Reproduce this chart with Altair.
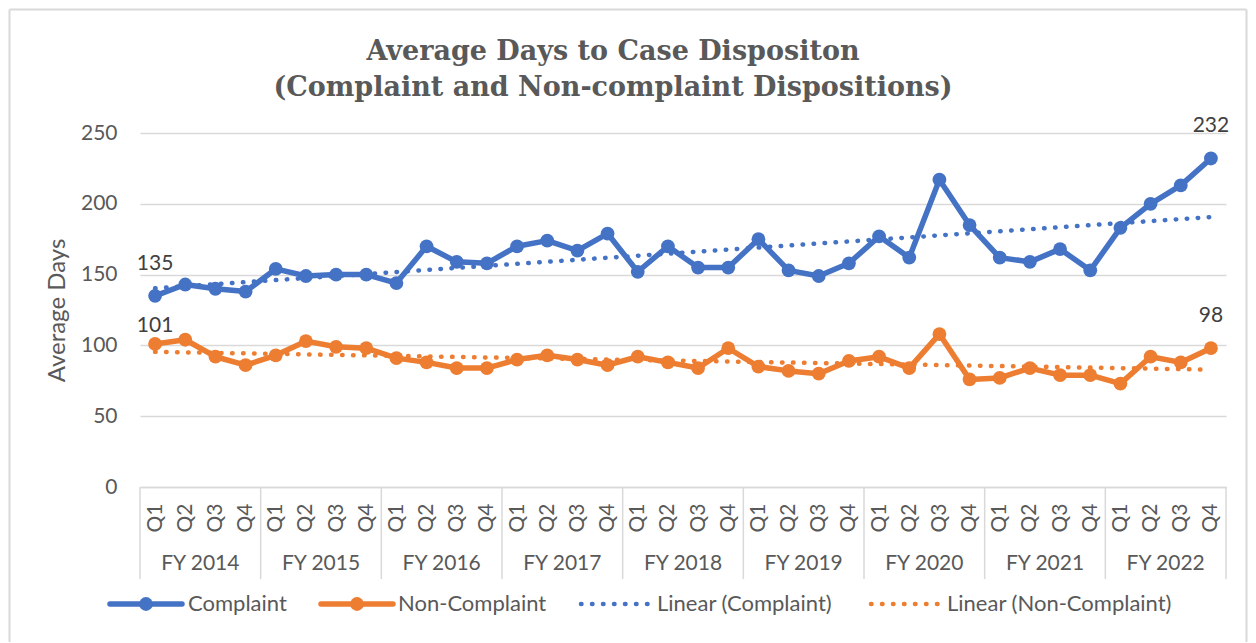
import altair as alt
import pandas as pd

# ---------------- data ----------------
YEARS = ["FY 2014", "FY 2015", "FY 2016", "FY 2017", "FY 2018",
         "FY 2019", "FY 2020", "FY 2021", "FY 2022"]
QUARTERS = ["Q1", "Q2", "Q3", "Q4"]
COMPLAINT = [135, 143, 140, 138, 154, 149, 150, 150, 144, 170, 159, 158,
             170, 174, 167, 179, 152, 170, 155, 155, 175, 153, 149, 158,
             177, 162, 217, 185, 162, 159, 168, 153, 183, 200, 213, 232]
NON_COMPLAINT = [101, 104, 92, 86, 93, 103, 99, 98, 91, 88, 84, 84,
                 90, 93, 90, 86, 92, 88, 84, 98, 85, 82, 80, 89,
                 92, 84, 108, 76, 77, 84, 79, 79, 73, 92, 88, 98]
SERIES = ["Complaint", "Non-Complaint"]
COLORS = ["#4472C4", "#ED7D31"]
LEGEND = ["Complaint", "Non-Complaint", "Linear (Complaint)", "Linear (Non-Complaint)"]
TITLE = ["Average Days to Case Dispositon", "(Complaint and Non-complaint Dispositions)"]
Y_TICKS = [0, 50, 100, 150, 200, 250]
Y_TITLE = "Average Days"

rows = []
for s, vals in zip(SERIES, [COMPLAINT, NON_COMPLAINT]):
    for i, v in enumerate(vals):
        rows.append({"series": s, "idx": i, "year": YEARS[i // 4],
                     "quarter": QUARTERS[i % 4], "value": v})
df = pd.DataFrame(rows)

n = len(COMPLAINT)
years_df = pd.DataFrame({"year": YEARS,
                         "mid": [4 * k + 1.5 for k in range(len(YEARS))]})
sep_df = pd.DataFrame({"pos": [4 * k - 0.5 for k in range(len(YEARS) + 1)]})

# ---------------- layout ----------------
W, H = 1086, 354
PAD_L, PAD_T, PAD_R, PAD_B = 132, 125, 22, 155
FONT = "Lato"
GREY = "#595959"
LINE_GREY = "#d9d9d9"

x_scale = alt.Scale(domain=[-0.5, n - 0.5], nice=False, zero=False)
y_scale = alt.Scale(domain=[0, 250], nice=False)

q_js = "[" + ",".join("'%s'" % q for q in QUARTERS) + "]"
x_axis = alt.Axis(values=list(range(n)), labelExpr=q_js + "[datum.value % 4]",
                  labelAngle=270, labelFont=FONT, labelFontSize=21,
                  labelColor=GREY, labelPadding=16, ticks=False,
                  domainColor=LINE_GREY, domainWidth=1.5, grid=False,
                  title=None, labelOverlap=False, labelFlush=False,
                  labelBound=False)
y_axis = alt.Axis(values=Y_TICKS, grid=True, gridColor=LINE_GREY, gridWidth=1.3,
                  domain=False, ticks=False, labelFont=FONT, labelFontSize=21,
                  labelColor=GREY, labelPadding=23, title=Y_TITLE,
                  titleFont=FONT, titleFontSize=24, titleFontWeight="normal",
                  titleColor=GREY, titleX=-83, titleY=H / 2, titleAngle=270,
                  titleAlign="center", titleBaseline="middle")

X = lambda f: alt.X(f, scale=x_scale, axis=x_axis)
Y = lambda f: alt.Y(f, scale=y_scale, axis=y_axis)
color = alt.Color("series:N", scale=alt.Scale(domain=SERIES, range=COLORS), legend=None)

base = alt.Chart(df)

trend = base.transform_regression("idx", "value", groupby=["series"]).mark_line(
    strokeWidth=4.5, strokeDash=[0.5, 10.5], strokeCap="round"
).encode(x=X("idx:Q"), y=Y("value:Q"), color=color, detail="series:N")

lines = base.mark_line(strokeWidth=5.5, strokeJoin="round", strokeCap="round").encode(
    x=X("idx:Q"), y=Y("value:Q"), color=color)
points = base.mark_point(filled=True, size=190, opacity=1).encode(
    x=X("idx:Q"), y=Y("value:Q"), color=color)

lab_common = dict(font=FONT, fontSize=21, color="#404040", baseline="middle", align="center")
labels_a = base.transform_filter(
    "(datum.idx == 0 || datum.idx == %d) && !(datum.idx == 0 && datum.series == 'Non-Complaint')" % (n - 1)
).mark_text(dy=-32, **lab_common).encode(x=X("idx:Q"), y=Y("value:Q"), text=alt.Text("value:Q", format=".0f"))
labels_b = base.transform_filter(
    "datum.idx == 0 && datum.series == 'Non-Complaint'"
).mark_text(dy=-18, **lab_common).encode(x=X("idx:Q"), y=Y("value:Q"), text=alt.Text("value:Q", format=".0f"))

seps = alt.Chart(sep_df).mark_rule(color=LINE_GREY, strokeWidth=1.5).encode(
    x=X("pos:Q"), y=alt.value(H), y2=alt.value(H + 92))
fy = alt.Chart(years_df).mark_text(font=FONT, fontSize=21, color=GREY, baseline="middle").encode(
    x=X("mid:Q"), y=alt.value(431), text="year:N")

# ---------------- title ----------------
title_layers = []
for line, ty in zip(TITLE, [-81, -45]):
    title_layers.append(
        alt.Chart(pd.DataFrame({"t": [line]})).mark_text(
            font="DejaVu Serif", fontSize=27, fontWeight="bold", color=GREY,
            align="center", baseline="middle").encode(
            x=alt.value(473), y=alt.value(ty), text="t:N"))

# ---------------- legend ----------------
LY = 471
def legend_entry(label, col, dashed, x0, x1, tx):
    d = pd.DataFrame({"label": [label]})
    layers = []
    if dashed:
        layers.append(alt.Chart(d).mark_rule(color=col, strokeWidth=4.5, strokeDash=[0.5, 10.5],
                                             strokeCap="round").encode(
            x=alt.value(x0), x2=alt.value(x1), y=alt.value(LY)))
    else:
        layers.append(alt.Chart(d).mark_rule(color=col, strokeWidth=5.5, strokeCap="round").encode(
            x=alt.value(x0), x2=alt.value(x1), y=alt.value(LY)))
        layers.append(alt.Chart(d).mark_point(filled=True, size=190, opacity=1, color=col).encode(
            x=alt.value((x0 + x1) / 2), y=alt.value(LY)))
    layers.append(alt.Chart(d).mark_text(align="left", baseline="middle", font=FONT,
                                         fontSize=22, color=GREY).encode(
        x=alt.value(tx), y=alt.value(LY), text="label:N"))
    return layers

leg = []
leg += legend_entry(LEGEND[0], COLORS[0], False, -30, 42, 48)
leg += legend_entry(LEGEND[1], COLORS[1], False, 181, 253, 258)
leg += legend_entry(LEGEND[2], COLORS[0], True, 441, 508, 517)
leg += legend_entry(LEGEND[3], COLORS[1], True, 731, 798, 807)

# ---------------- chart frame (inside the svg) ----------------
fd = pd.DataFrame({"label": [""]})
FL, FT = -PAD_L + 1.5, -PAD_T + 1.5
FR = W + PAD_R - 1.5
frame = [
    alt.Chart(fd).mark_rule(color=LINE_GREY, strokeWidth=2).encode(
        x=alt.value(FL), x2=alt.value(FR), y=alt.value(FT)),
    alt.Chart(fd).mark_rule(color=LINE_GREY, strokeWidth=2).encode(
        x=alt.value(FL), y=alt.value(FT), y2=alt.value(H + PAD_B + 10)),
    alt.Chart(fd).mark_rule(color=LINE_GREY, strokeWidth=2).encode(
        x=alt.value(FR), y=alt.value(FT), y2=alt.value(H + PAD_B + 10)),
]

chart = alt.layer(
    *frame, trend, lines, points, labels_a, labels_b, seps, fy, *title_layers, *leg
).properties(
    width=W, height=H,
    padding={"left": PAD_L, "top": PAD_T, "right": PAD_R, "bottom": PAD_B},
    autosize=alt.AutoSizeParams(type="none"),
).configure_view(stroke=None)

chart.save("out.html", embed_options={"renderer": "svg", "actions": False})
